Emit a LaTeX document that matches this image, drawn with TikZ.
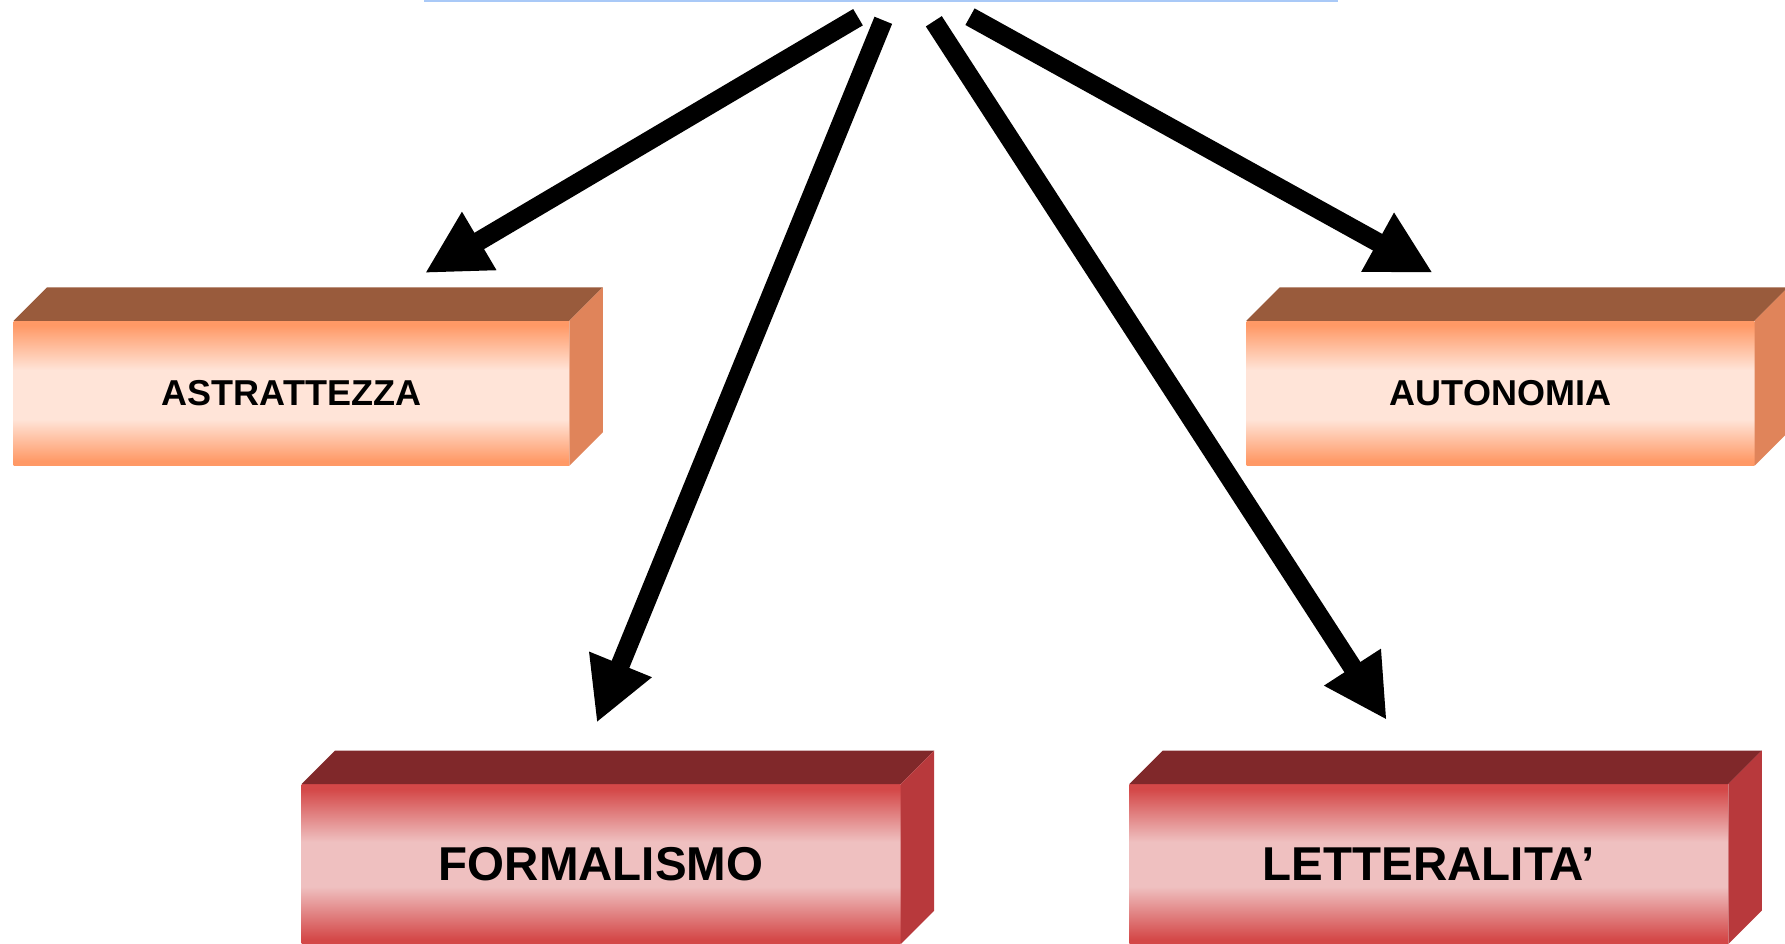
\documentclass[tikz,border=0pt]{standalone}
\usepackage{fontspec}
\setmainfont{Liberation Sans}
\usetikzlibrary{arrows.meta}
\definecolor{orfront}{HTML}{FF9966}
\definecolor{orlight}{HTML}{FFE4D8}
\definecolor{ortop}{HTML}{995B3C}
\definecolor{orside}{HTML}{E0845A}
\definecolor{rdfront}{HTML}{D44848}
\definecolor{rdlight}{HTML}{EFC0C0}
\definecolor{rdtop}{HTML}{80282A}
\definecolor{rdside}{HTML}{B8393C}
\definecolor{topline}{HTML}{A9C9F7}
\pgfdeclareverticalshading{orband}{100bp}{color(0bp)=(orfront); color(25bp)=(orfront); color(26.5bp)=(orfront); color(41bp)=(orlight); color(58bp)=(orlight); color(73.5bp)=(orfront); color(75bp)=(orfront); color(100bp)=(orfront)}
\pgfdeclareverticalshading{rdband}{100bp}{color(0bp)=(rdfront); color(25bp)=(rdfront); color(26.5bp)=(rdfront); color(43bp)=(rdlight); color(57bp)=(rdlight); color(73.5bp)=(rdfront); color(75bp)=(rdfront); color(100bp)=(rdfront)}
\begin{document}
\begin{tikzpicture}[x=1pt,y=-1pt,
  frontface/.style={draw=none, rectangle, inner sep=0pt},
  orbox/.style={frontface, shading=orband, font=\bfseries\fontsize{36}{40}\selectfont},
  rdbox/.style={frontface, shading=rdband, font=\bfseries\fontsize{47.5}{52}\selectfont},
  link/.style={line width=19pt, line cap=butt, -{Triangle[length=63pt,width=63pt]}}]
\useasboundingbox (0,0) rectangle (1785,944);

% top line
\coordinate (la) at (424,1);
\coordinate (lb) at (1338,1);
\draw[topline, line width=2.5pt] (la) -- (lb);

% boxes
\node[orbox, minimum width=555.5pt, minimum height=144.6pt] (astr) at (291.45,393.3) {ASTRATTEZZA};
\node[orbox, minimum width=507.8pt, minimum height=144.6pt] (auto) at (1500.4,393.3) {AUTONOMIA};
\node[rdbox, minimum width=598.8pt, minimum height=159.6pt] (form) at (601.1,864.2) {FORMALISMO};
\node[rdbox, minimum width=598.7pt, minimum height=159.6pt] (lett) at (1428.7,864.2) {LETTERALITA’};

\foreach \b/\tc/\sc in {astr/ortop/orside, auto/ortop/orside, form/rdtop/rdside, lett/rdtop/rdside}{
  \fill[\tc] (\b.north west) -- ([shift={(33.5,-33.5)}]\b.north west) -- ([shift={(33.5,-33.5)}]\b.north east) -- (\b.north east) -- cycle;
  \fill[\sc] (\b.north east) -- ([shift={(33.5,-33.5)}]\b.north east) -- ([shift={(33.5,-33.5)}]\b.south east) -- (\b.south east) -- cycle;
}

% arrows
\coordinate (t1) at (858,17.2);   \coordinate (h1) at (425,273);
\coordinate (t2) at (883.3,20.3); \coordinate (h2) at (596.7,722.7);
\coordinate (t3) at (933.8,21.3); \coordinate (h3) at (1386.7,720);
\coordinate (t4) at (970,16.7);   \coordinate (h4) at (1432.7,272.7);
\draw[link] (t1) -- (h1);
\draw[link] (t2) -- (h2);
\draw[link] (t3) -- (h3);
\draw[link] (t4) -- (h4);
\end{tikzpicture}
\end{document}
